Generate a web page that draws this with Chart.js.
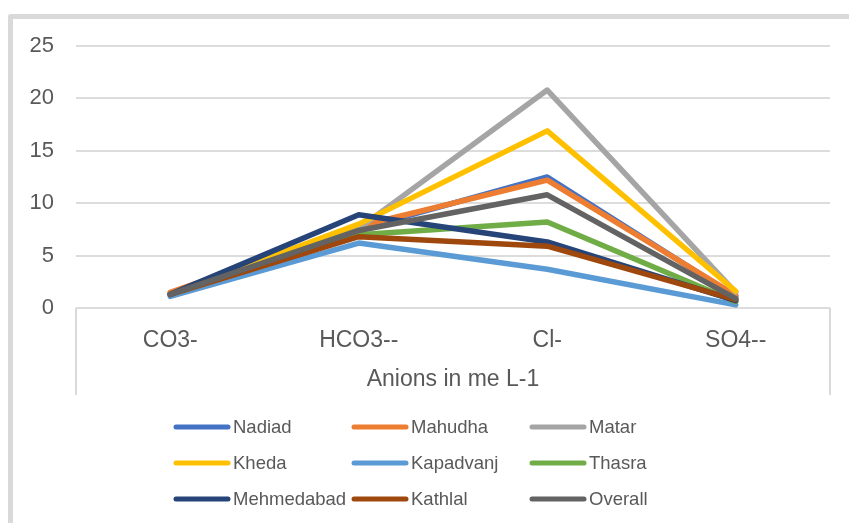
<!DOCTYPE html>
<html>
<head>
<meta charset="utf-8">
<script src="https://cdn.jsdelivr.net/npm/chart.js@4.4.1/dist/chart.umd.min.js"></script>
<style>
html, body { margin: 0; padding: 0; background: #fff; overflow: hidden; }
#frame { position: absolute; left: 8px; top: 14px; width: 900px; height: 600px;
         border-left: 5px solid #d9d9d9; border-top: 5px solid #d9d9d9; border-top-left-radius: 3px; }
#wrap { position: absolute; left: 0; top: 0; width: 849px; height: 523px; }
</style>
</head>
<body>
<div id="frame"></div>
<div id="wrap"><canvas id="chart"></canvas></div>
<script>
'use strict';

const anions = ['CO3-', 'HCO3--', 'Cl-', 'SO4--']
const yTicks = [0, 5, 10, 15, 20, 25]

const stations = ['Nadiad', 'Mahudha', 'Matar', 'Kheda', 'Kapadvanj', 'Thasra', 'Mehmedabad', 'Kathlal', 'Overall']
const nadiad = [1.3, 7.5, 12.5, 1.1]
const mahudha = [1.5, 7.8, 12.2, 1.2]
const matar = [1.3, 7.6, 20.8, 1.5]
const kheda = [1.3, 8.0, 16.9, 1.6]
const kapadvanj = [1.1, 6.2, 3.7, 0.3]
const thasra = [1.3, 7.0, 8.2, 0.6]
const mehmedabad = [1.3, 8.9, 6.3, 0.7]
const kathlal = [1.3, 6.8, 5.9, 0.8]
const overall = [1.3, 7.4, 10.8, 0.9]
const seriesValues = [nadiad, mahudha, matar, kheda, kapadvanj, thasra, mehmedabad, kathlal, overall]
const colors = ['#4472C4', '#ED7D31', '#A5A5A5', '#FFC000', '#5B9BD5', '#70AD47', '#264478', '#9E480E', '#636363']

const textColor = '#595959'
const fontFamily = "'Liberation Sans', Arial, sans-serif"
Chart.defaults.font.family = fontFamily
Chart.defaults.color = textColor

// vertical lines either side of the category labels, like the Excel axis box
const axisBox = {
    id: 'axisBox',
    beforeDatasetsDraw(chart) {
        const { ctx, chartArea, scales: { x } } = chart
        ctx.save()
        ctx.strokeStyle = '#d9d9d9'
        ctx.lineWidth = 2
        ctx.beginPath()
        ctx.moveTo(chartArea.left, chartArea.bottom)
        ctx.lineTo(chartArea.left, x.bottom)
        ctx.moveTo(chartArea.right, chartArea.bottom)
        ctx.lineTo(chartArea.right, x.bottom)
        ctx.stroke()
        ctx.restore()
    }
}

// three column legend under the axis
const gridLegend = {
    id: 'gridLegend',
    afterDraw(chart) {
        const { ctx } = chart
        const left = 174, colWidth = 178, top = 427, rowHeight = 36, sample = 56
        ctx.save()
        ctx.font = '18.5px ' + fontFamily
        ctx.textBaseline = 'middle'
        ctx.lineCap = 'round'
        chart.data.datasets.forEach((ds, i) => {
            const cx = left + (i % 3) * colWidth
            const cy = top + Math.floor(i / 3) * rowHeight
            ctx.strokeStyle = ds.borderColor
            ctx.lineWidth = 5
            ctx.beginPath()
            ctx.moveTo(cx + 2, cy)
            ctx.lineTo(cx + sample - 2, cy)
            ctx.stroke()
            ctx.fillStyle = textColor
            ctx.fillText(ds.label, cx + sample + 3, cy + 1)
        })
        ctx.restore()
    }
}

const datasets = stations.map((name, i) => ({
    label: name,
    data: seriesValues[i],
    borderColor: colors[i],
    backgroundColor: colors[i],
    borderWidth: 5.5,
    borderJoinStyle: 'round',
    borderCapStyle: 'round',
    pointRadius: 0,
    tension: 0,
    order: stations.length - i
}))

const ctx = document.getElementById('chart').getContext('2d')
const chart = new Chart(ctx, {
    type: 'line',
    data: { labels: anions, datasets: datasets },
    plugins: [axisBox, gridLegend],
    options: {
        responsive: true,
        maintainAspectRatio: false,
        animation: false,
        layout: { padding: { top: 46, right: 19, bottom: 128, left: 0 } },
        plugins: { legend: { display: false }, tooltip: { enabled: false } },
        scales: {
            x: {
                offset: true,
                grid: { display: false },
                border: { display: false },
                ticks: { font: { size: 23 }, color: textColor, padding: 11, maxRotation: 0 },
                title: { display: true, text: 'Anions in me L-1', font: { size: 23 }, color: textColor, padding: { top: 0, bottom: 2 } },
                afterFit(scale) { scale.height = 87 }
            },
            y: {
                min: 0,
                max: 25,
                afterBuildTicks(scale) { scale.ticks = yTicks.map(v => ({ value: v })) },
                grid: { color: '#dcdcdc', lineWidth: 2, drawTicks: false },
                border: { display: false },
                ticks: { font: { size: 22 }, color: textColor, padding: 22 },
                afterFit(scale) { scale.width = 76 }
            }
        }
    }
})
</script>
</body>
</html>
